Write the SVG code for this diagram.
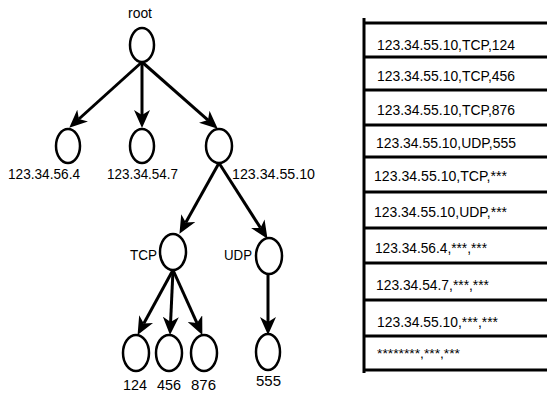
<svg xmlns="http://www.w3.org/2000/svg" width="547" height="394" viewBox="0 0 547 394">
<style>
text{font-family:"Liberation Sans",Arial,sans-serif;font-size:15.5px;fill:#000}
.n{fill:#fff;stroke:#000;stroke-width:2.5}
.e{stroke:#000;stroke-width:3;fill:none;marker-end:url(#ah)}
.t{stroke:#000;stroke-width:3;fill:none}
</style>
<defs>
<marker id="ah" markerUnits="userSpaceOnUse" markerWidth="18" markerHeight="16" refX="5" refY="8" orient="auto">
<path d="M0,0 L18,8 L0,16 L5,8 z" fill="#000"/>
</marker>
</defs>
<rect width="547" height="394" fill="#fff"/>
<g id="connectors">
<line class="e" x1="142" y1="62" x2="78.9" y2="119"/>
<line class="e" x1="142" y1="62" x2="142" y2="115"/>
<line class="e" x1="142" y1="62" x2="208" y2="120.1"/>
<line class="e" x1="219" y1="163" x2="185.8" y2="222.5"/>
<line class="e" x1="219" y1="163" x2="260.5" y2="227.9"/>
<line class="e" x1="173" y1="270" x2="143.8" y2="323.5"/>
<line class="e" x1="173" y1="270" x2="170.6" y2="322"/>
<line class="e" x1="173" y1="270" x2="197" y2="323.1"/>
<line class="e" x1="268" y1="273" x2="268" y2="322"/>
</g>
<g id="root"><ellipse class="n" cx="142" cy="45" rx="12" ry="17"/><text x="128" y="18" textLength="24" lengthAdjust="spacingAndGlyphs">root</text></g>
<g id="n564"><ellipse class="n" cx="68" cy="146" rx="12" ry="17"/><text x="8" y="179" textLength="72" lengthAdjust="spacingAndGlyphs">123.34.56.4</text></g>
<g id="n547"><ellipse class="n" cx="142" cy="146" rx="12" ry="17"/><text x="107" y="179" textLength="71" lengthAdjust="spacingAndGlyphs">123.34.54.7</text></g>
<g id="n5510"><ellipse class="n" cx="219" cy="146" rx="13" ry="17"/><text x="232" y="179" textLength="83" lengthAdjust="spacingAndGlyphs">123.34.55.10</text></g>
<g id="tcp"><ellipse class="n" cx="173" cy="252" rx="13" ry="18"/><text x="130" y="260" textLength="27" lengthAdjust="spacingAndGlyphs">TCP</text></g>
<g id="udp"><ellipse class="n" cx="269" cy="256" rx="13" ry="18"/><text x="224" y="260" textLength="28" lengthAdjust="spacingAndGlyphs">UDP</text></g>
<g id="l124"><ellipse class="n" cx="136" cy="353" rx="13" ry="18"/><text x="123" y="390" textLength="24" lengthAdjust="spacingAndGlyphs">124</text></g>
<g id="l456"><ellipse class="n" cx="169" cy="353" rx="13" ry="18"/><text x="157" y="390" textLength="24" lengthAdjust="spacingAndGlyphs">456</text></g>
<g id="l876"><ellipse class="n" cx="204" cy="353" rx="13" ry="18"/><text x="191" y="390" textLength="25" lengthAdjust="spacingAndGlyphs">876</text></g>
<g id="l555"><ellipse class="n" cx="268" cy="352" rx="12" ry="18"/><text x="256" y="386" textLength="25" lengthAdjust="spacingAndGlyphs">555</text></g>
<g id="table">
<line class="t" x1="364" y1="18" x2="364" y2="373"/>
<line class="t" x1="363" y1="23" x2="547" y2="23"/>
<line class="t" x1="363" y1="57" x2="547" y2="57"/>
<line class="t" x1="363" y1="90" x2="547" y2="90"/>
<line class="t" x1="363" y1="125" x2="547" y2="125"/>
<line class="t" x1="363" y1="157" x2="547" y2="157"/>
<line class="t" x1="363" y1="192" x2="547" y2="192"/>
<line class="t" x1="363" y1="228" x2="547" y2="228"/>
<line class="t" x1="363" y1="263" x2="547" y2="263"/>
<line class="t" x1="363" y1="300" x2="547" y2="300"/>
<line class="t" x1="363" y1="336" x2="547" y2="336"/>
<line class="t" x1="363" y1="370" x2="547" y2="370"/>
<text x="377" y="50" textLength="138" lengthAdjust="spacingAndGlyphs">123.34.55.10,TCP,124</text>
<text x="377" y="81" textLength="138" lengthAdjust="spacingAndGlyphs">123.34.55.10,TCP,456</text>
<text x="377" y="115" textLength="138" lengthAdjust="spacingAndGlyphs">123.34.55.10,TCP,876</text>
<text x="376" y="148" textLength="140" lengthAdjust="spacingAndGlyphs">123.34.55.10,UDP,555</text>
<text x="374" y="181" textLength="133" lengthAdjust="spacingAndGlyphs">123.34.55.10,TCP,***</text>
<text x="374" y="217" textLength="133" lengthAdjust="spacingAndGlyphs">123.34.55.10,UDP,***</text>
<text x="375" y="253" textLength="112" lengthAdjust="spacingAndGlyphs">123.34.56.4,***,***</text>
<text x="376" y="290" textLength="113" lengthAdjust="spacingAndGlyphs">123.34.54.7,***,***</text>
<text x="377" y="327" textLength="121" lengthAdjust="spacingAndGlyphs">123.34.55.10,***,***</text>
<text x="377" y="358" style="font-size:12px" textLength="83" lengthAdjust="spacingAndGlyphs">********,***,***</text>
</g>
</svg>
